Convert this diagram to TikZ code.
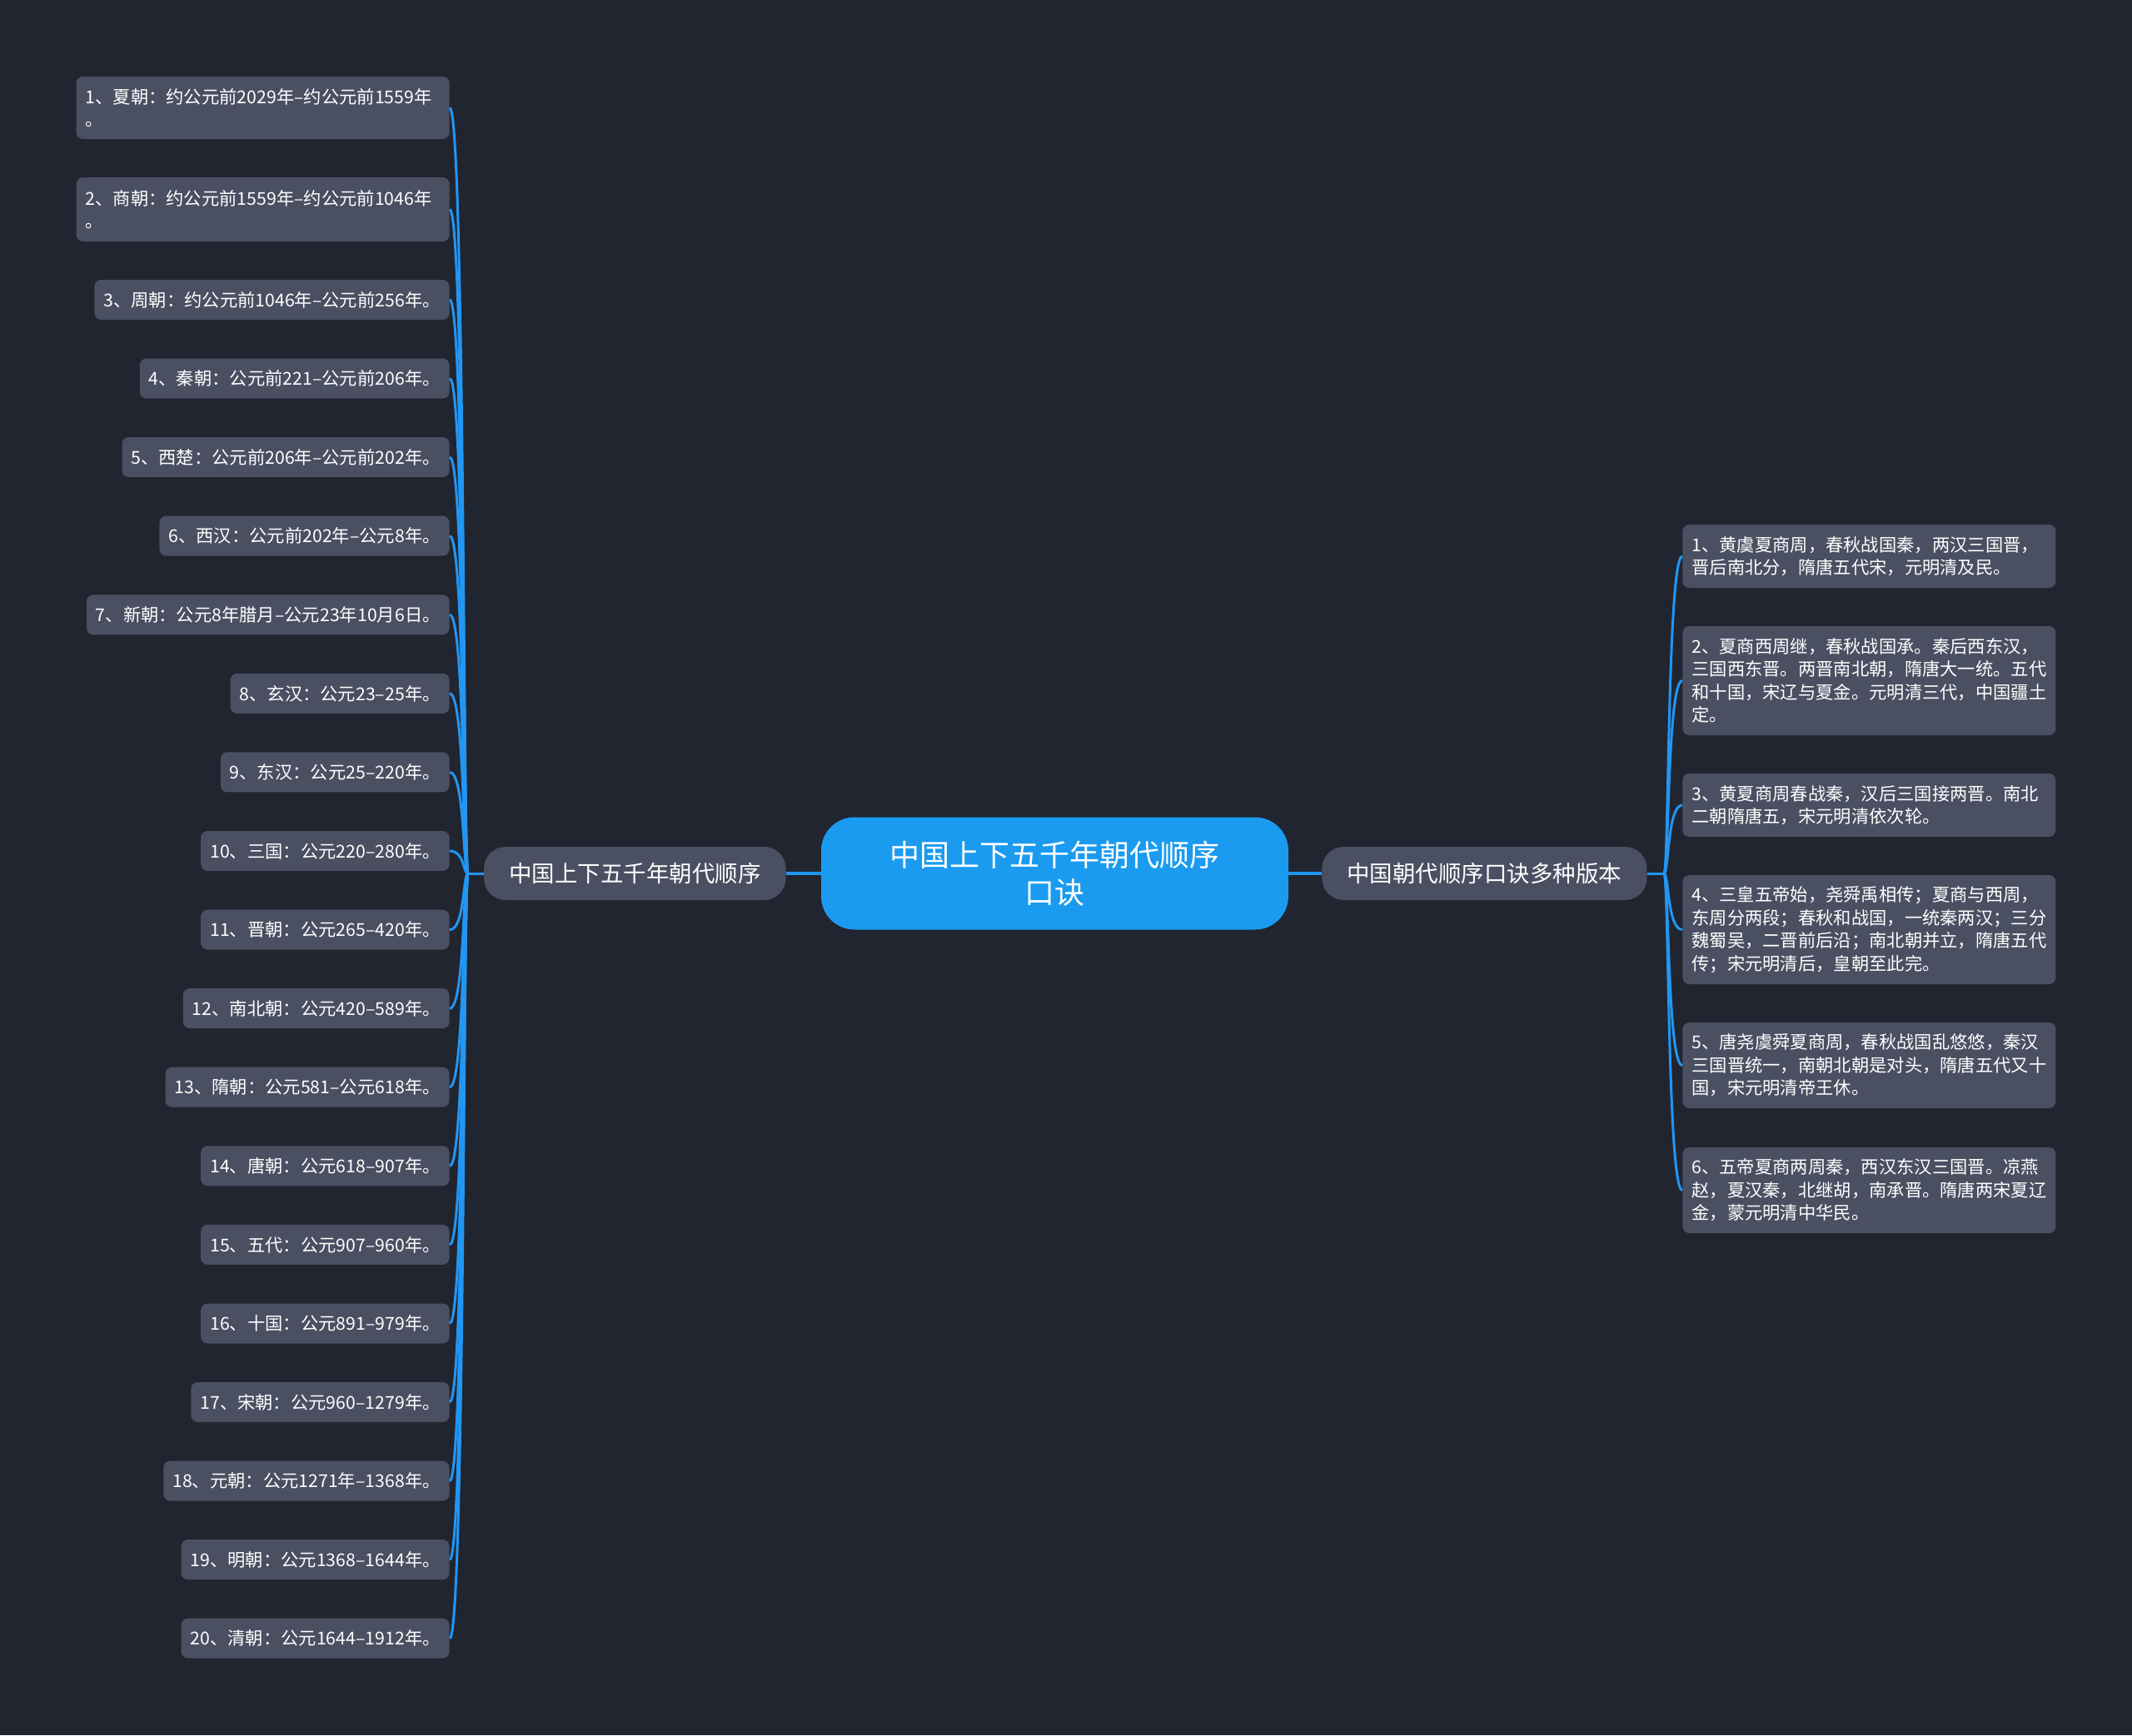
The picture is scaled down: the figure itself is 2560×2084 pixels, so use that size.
\documentclass[tikz,border=0pt]{standalone}
\usepackage{fontspec}
\setmainfont{Noto Sans CJK SC}
\usepackage{xcolor}
\usepackage{tikz}

\definecolor{bgcol}{HTML}{21252F}
\definecolor{leafcol}{HTML}{4A5062}
\definecolor{linkcol}{HTML}{2196F3}
\definecolor{topiccol}{HTML}{1A9BF0}

\begin{document}
\begin{tikzpicture}[
    x=0.5pt, y=-0.5pt,
    % Leaf boxes (grey)
    leaf/.style={
        rectangle, rounded corners=4pt, fill=leafcol, text=white,
        inner xsep=5.5pt, inner ysep=3pt, minimum height=24pt,
        font=\fontsize{10.65pt}{13.75pt}\selectfont
    },
    % Wrapped leaf boxes
    leafwide/.style={leaf, text width=213pt, align=left},
    % First level topics
    trunk/.style={
        rectangle, rounded corners=13pt, fill=leafcol, text=white,
        inner xsep=15pt, minimum height=32pt,
        font=\fontsize{13.75pt}{16pt}\selectfont
    },
    % Central topic (blue)
    topic/.style={
        rectangle, rounded corners=20pt, fill=topiccol, text=white,
        minimum width=280.5pt, minimum height=67.5pt, align=center,
        font=\fontsize{18pt}{22.5pt}\selectfont
    },
    % Connectors
    branch/.style={draw=linkcol, line width=1.5pt},
    mainlink/.style={draw=linkcol, line width=2pt},
]

% Canvas
\fill[bgcol] (0,0) rectangle (2560,2084);
\useasboundingbox (0,0) rectangle (2560,2084);

% Column positions
\def\lx{540}
\def\rx{2020}
\def\midy{1049}

% ===== Central topic =====
\node[topic] (root) at (1266.5,\midy) {中国上下五千年朝代顺序\\口诀};

\node[trunk, anchor=east] (lmain) at (944,\midy) {中国上下五千年朝代顺序};
\node[trunk, anchor=west] (rmain) at (1587,\midy) {中国朝代顺序口诀多种版本};

\coordinate (lhub) at (562,\midy);
\coordinate (rhub) at (1998,\midy);

% ===== Left: dynasties =====
\node[leafwide, minimum height=37.5pt, anchor=east] (l1) at (\lx,129.5)
    {1、夏朝：约公元前2029年–约公元前1559年\\。};
\node[leafwide, minimum height=38.5pt, anchor=east] (l2) at (\lx,251.5)
    {2、商朝：约公元前1559年–约公元前1046年\\。};
\node[leaf, anchor=east] (l3) at (\lx,360) {3、周朝：约公元前1046年–公元前256年。};
\node[leaf, anchor=east] (l4) at (\lx,454.6) {4、秦朝：公元前221–公元前206年。};
\node[leaf, anchor=east] (l5) at (\lx,549.1) {5、西楚：公元前206年–公元前202年。};
\node[leaf, anchor=east] (l6) at (\lx,643.7) {6、西汉：公元前202年–公元8年。};
\node[leaf, anchor=east] (l7) at (\lx,738.3) {7、新朝：公元8年腊月–公元23年10月6日。};
\node[leaf, anchor=east] (l8) at (\lx,832.9) {8、玄汉：公元23–25年。};
\node[leaf, anchor=east] (l9) at (\lx,927.4) {9、东汉：公元25–220年。};
\node[leaf, anchor=east] (l10) at (\lx,1022) {10、三国：公元220–280年。};
\node[leaf, anchor=east] (l11) at (\lx,1116.6) {11、晋朝：公元265–420年。};
\node[leaf, anchor=east] (l12) at (\lx,1211.1) {12、南北朝：公元420–589年。};
\node[leaf, anchor=east] (l13) at (\lx,1305.7) {13、隋朝：公元581–公元618年。};
\node[leaf, anchor=east] (l14) at (\lx,1400.3) {14、唐朝：公元618–907年。};
\node[leaf, anchor=east] (l15) at (\lx,1494.9) {15、五代：公元907–960年。};
\node[leaf, anchor=east] (l16) at (\lx,1589.5) {16、十国：公元891–979年。};
\node[leaf, anchor=east] (l17) at (\lx,1684) {17、宋朝：公元960–1279年。};
\node[leaf, anchor=east] (l18) at (\lx,1778.6) {18、元朝：公元1271年–1368年。};
\node[leaf, anchor=east] (l19) at (\lx,1873.2) {19、明朝：公元1368–1644年。};
\node[leaf, anchor=east] (l20) at (\lx,1967.7) {20、清朝：公元1644–1912年。};

% ===== Right: rhymes =====
\node[leafwide, minimum height=38pt, anchor=west] (r1) at (\rx,668)
    {1、黄虞夏商周，春秋战国秦，两汉三国晋，\\
     晋后南北分，隋唐五代宋，元明清及民。};
\node[leafwide, minimum height=65.5pt, anchor=west] (r2) at (\rx,817.5)
    {2、夏商西周继，春秋战国承。秦后西东汉，\\
     三国西东晋。两晋南北朝，隋唐大一统。五代\\
     和十国，宋辽与夏金。元明清三代，中国疆土\\
     定。};
\node[leafwide, minimum height=38pt, anchor=west] (r3) at (\rx,967)
    {3、黄夏商周春战秦，汉后三国接两晋。南北\\
     二朝隋唐五，宋元明清依次轮。};
\node[leafwide, minimum height=65.5pt, anchor=west] (r4) at (\rx,1116.5)
    {4、三皇五帝始，尧舜禹相传；夏商与西周，\\
     东周分两段；春秋和战国，一统秦两汉；三分\\
     魏蜀吴，二晋前后沿；南北朝并立，隋唐五代\\
     传；宋元明清后，皇朝至此完。};
\node[leafwide, minimum height=51.5pt, anchor=west] (r5) at (\rx,1279.5)
    {5、唐尧虞舜夏商周，春秋战国乱悠悠，秦汉\\
     三国晋统一，南朝北朝是对头，隋唐五代又十\\
     国，宋元明清帝王休。};
\node[leafwide, minimum height=51.5pt, anchor=west] (r6) at (\rx,1429.5)
    {6、五帝夏商两周秦，西汉东汉三国晋。凉燕\\
     赵，夏汉秦，北继胡，南承晋。隋唐两宋夏辽\\
     金，蒙元明清中华民。};

% ===== Connectors =====
\draw[mainlink] (root.west) -- (lmain.east);
\draw[mainlink] (root.east) -- (rmain.west);
\draw[branch] (lmain.west) -- (lhub);
\draw[branch] (rmain.east) -- (rhub);

\foreach \i in {1,...,20}
    \draw[branch] (lhub) .. controls +(-6,0) and +(18,0) .. (l\i.east);
\foreach \i in {1,...,6}
    \draw[branch] (rhub) .. controls +(6,0) and +(-18,0) .. (r\i.west);

\end{tikzpicture}
\end{document}
